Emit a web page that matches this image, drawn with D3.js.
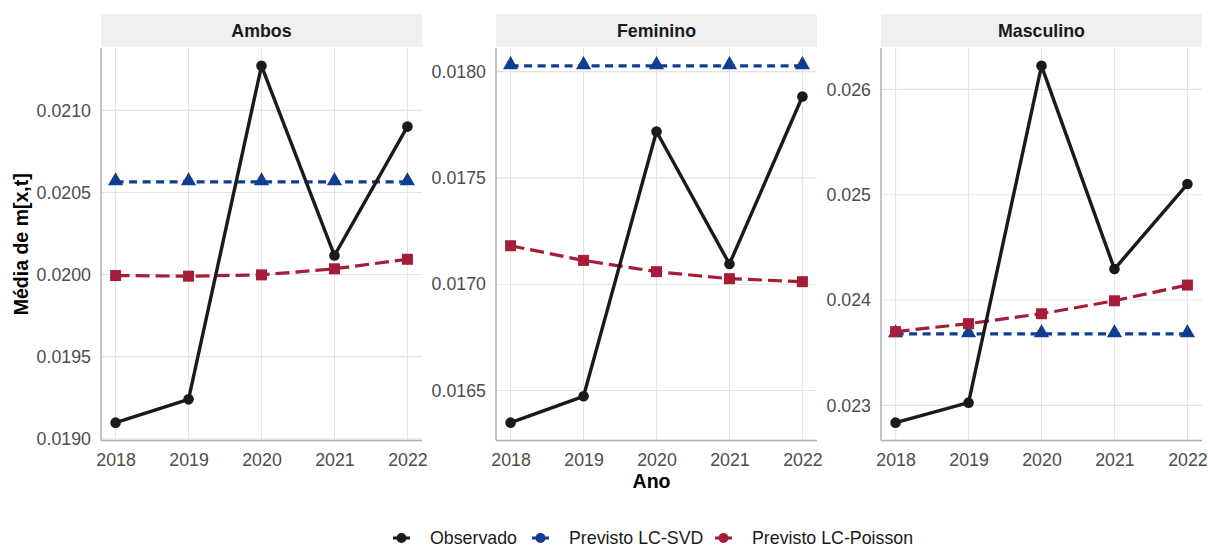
<!DOCTYPE html>
<html>
<head>
<meta charset="utf-8">
<script src="https://cdn.jsdelivr.net/npm/d3@7"></script>
<style>
  html, body { margin: 0; padding: 0; background: #fff; }
  svg { display: block; font-family: "Liberation Sans", Arial, sans-serif; }
</style>
</head>
<body>
<svg id="chart" width="1208" height="547"></svg>
<script>
// Anos e facetas
const years = [2018, 2019, 2020, 2021, 2022];
const facets = ["Ambos", "Feminino", "Masculino"];

// Média observada de m[x,t] por faceta
const observedAmbos     = [0.019098, 0.019240, 0.021271, 0.020116, 0.020901];
const observedFeminino  = [0.016349, 0.016473, 0.017718, 0.017095, 0.017883];
const observedMasculino = [0.022836, 0.023026, 0.026223, 0.024294, 0.025101];

// Previsão Lee-Carter (SVD)
const svdAmbos     = [0.020564, 0.020564, 0.020564, 0.020564, 0.020564];
const svdFeminino  = [0.018027, 0.018027, 0.018027, 0.018027, 0.018027];
const svdMasculino = [0.023678, 0.023678, 0.023678, 0.023678, 0.023678];

// Previsão Lee-Carter (Poisson)
const poissonAmbos     = [0.019994, 0.019990, 0.019998, 0.020035, 0.020093];
const poissonFeminino  = [0.017181, 0.017112, 0.017059, 0.017026, 0.017012];
const poissonMasculino = [0.023700, 0.023776, 0.023870, 0.023993, 0.024142];

// Quebras do eixo y de cada faceta
const ticksAmbos     = [0.0190, 0.0195, 0.0200, 0.0205, 0.0210];
const ticksFeminino  = [0.0165, 0.0170, 0.0175, 0.0180];
const ticksMasculino = [0.023, 0.024, 0.025, 0.026];

const seriesNames = ["Observado", "Previsto LC-SVD", "Previsto LC-Poisson"];

const panelData = [
  { name: facets[0], obs: observedAmbos, svd: svdAmbos, poi: poissonAmbos, ticks: ticksAmbos, fmt: d3.format(".4f") },
  { name: facets[1], obs: observedFeminino, svd: svdFeminino, poi: poissonFeminino, ticks: ticksFeminino, fmt: d3.format(".4f") },
  { name: facets[2], obs: observedMasculino, svd: svdMasculino, poi: poissonMasculino, ticks: ticksMasculino, fmt: d3.format(".3f") }
];

const colors = { obs: "#1a1a1a", svd: "#0f3d8f", poi: "#a51d36" };

const svg = d3.select("#chart");
const panelLeft = [101, 496, 881];
const panelW = 321;
const plotTop = 48, plotBottom = 440.5;
const stripTop = 14;

const tickFont = 17.8;

function expand(lo, hi, f = 0.05) {
  const d = (hi - lo) * f;
  return [lo - d, hi + d];
}

panelData.forEach((p, i) => {
  const x0 = panelLeft[i];
  const g = svg.append("g");

  const x = d3.scaleLinear()
    .domain(expand(years[0], years[years.length - 1]))
    .range([x0, x0 + panelW]);
  const all = p.obs.concat(p.svd, p.poi);
  const y = d3.scaleLinear()
    .domain(expand(d3.min(all), d3.max(all)))
    .range([plotBottom, plotTop]);

  // faixa do título da faceta
  g.append("rect")
    .attr("x", x0).attr("y", stripTop)
    .attr("width", panelW).attr("height", plotTop - stripTop - 1)
    .attr("fill", "#f0f0f0");
  g.append("text")
    .attr("x", x0 + panelW / 2).attr("y", (stripTop + plotTop) / 2 + 6)
    .attr("text-anchor", "middle")
    .attr("font-size", 17.8).attr("font-weight", "bold")
    .attr("fill", "#1a1a1a")
    .text(p.name);

  // grade
  g.append("g").selectAll("line").data(p.ticks).join("line")
    .attr("x1", x0).attr("x2", x0 + panelW)
    .attr("y1", d => y(d)).attr("y2", d => y(d))
    .attr("stroke", "#e3e3e3").attr("stroke-width", 1.1);
  g.append("g").selectAll("line").data(years).join("line")
    .attr("x1", d => x(d)).attr("x2", d => x(d))
    .attr("y1", plotTop).attr("y2", plotBottom)
    .attr("stroke", "#e3e3e3").attr("stroke-width", 1.1);

  // eixos
  const yAxis = d3.axisLeft(y).tickValues(p.ticks).tickFormat(p.fmt).tickSize(0).tickPadding(10);
  const ya = g.append("g").attr("transform", `translate(${x0},0)`).call(yAxis);
  const xAxis = d3.axisBottom(x).tickValues(years).tickFormat(d3.format("d")).tickSize(0).tickPadding(9);
  const xa = g.append("g").attr("transform", `translate(0,${plotBottom})`).call(xAxis);
  [ya, xa].forEach(a => {
    a.select(".domain").remove();
    a.selectAll("text").attr("font-size", tickFont).attr("fill", "#4d4d4d")
      .attr("font-family", "Liberation Sans, Arial, sans-serif");
  });
  xa.selectAll("text").attr("dy", "0.95em");
  g.append("line").attr("x1", x0).attr("x2", x0).attr("y1", plotTop).attr("y2", plotBottom)
    .attr("stroke", "#b0b0b0").attr("stroke-width", 1.5);
  g.append("line").attr("x1", x0).attr("x2", x0 + panelW).attr("y1", plotBottom).attr("y2", plotBottom)
    .attr("stroke", "#b0b0b0").attr("stroke-width", 1.5);

  const line = d3.line().x((d, j) => x(years[j])).y(d => y(d));

  // LC-SVD
  g.append("path").datum(p.svd).attr("d", line)
    .attr("fill", "none").attr("stroke", colors.svd).attr("stroke-width", 3.2)
    .attr("stroke-dasharray", "8,5.5");
  const tri = d3.symbol().type(d3.symbolTriangle).size(100);
  g.append("g").selectAll("path").data(p.svd).join("path")
    .attr("d", tri)
    .attr("transform", (d, j) => `translate(${x(years[j])},${y(d) - 1})`)
    .attr("fill", colors.svd);

  // LC-Poisson
  g.append("path").datum(p.poi).attr("d", line)
    .attr("fill", "none").attr("stroke", colors.poi).attr("stroke-width", 3.2)
    .attr("stroke-dasharray", "14,6");
  g.append("g").selectAll("rect").data(p.poi).join("rect")
    .attr("x", (d, j) => x(years[j]) - 5.5).attr("y", d => y(d) - 5.5)
    .attr("width", 11).attr("height", 11)
    .attr("fill", colors.poi);

  // Observado
  g.append("path").datum(p.obs).attr("d", line)
    .attr("fill", "none").attr("stroke", colors.obs).attr("stroke-width", 3.4)
    .attr("stroke-linejoin", "round");
  g.append("g").selectAll("circle").data(p.obs).join("circle")
    .attr("cx", (d, j) => x(years[j])).attr("cy", d => y(d))
    .attr("r", 5.3).attr("fill", colors.obs);
});

// títulos dos eixos
svg.append("text")
  .attr("x", (panelLeft[0] + panelLeft[2] + panelW) / 2).attr("y", 488)
  .attr("text-anchor", "middle").attr("font-size", 19.5).attr("font-weight", "bold")
  .attr("fill", "#000").text("Ano");
svg.append("text")
  .attr("transform", `translate(28,${(plotTop + plotBottom) / 2}) rotate(-90)`)
  .attr("text-anchor", "middle").attr("font-size", 19.5).attr("font-weight", "bold")
  .attr("fill", "#000").text("Média de m[x,t]");

// legenda
const legendColors = [colors.obs, colors.svd, colors.poi];
const legendX = [393, 532, 715];
const legendY = 538;
const lg = svg.append("g");
seriesNames.forEach((name, i) => {
  const lx = legendX[i];
  lg.append("line").attr("x1", lx).attr("x2", lx + 17).attr("y1", legendY).attr("y2", legendY)
    .attr("stroke", legendColors[i]).attr("stroke-width", 3);
  lg.append("circle").attr("cx", lx + 8.5).attr("cy", legendY).attr("r", 5).attr("fill", legendColors[i]);
  lg.append("text").attr("x", lx + 37).attr("y", legendY + 5.5)
    .attr("font-size", tickFont).attr("fill", "#1a1a1a").text(name);
});
</script>
</body>
</html>
